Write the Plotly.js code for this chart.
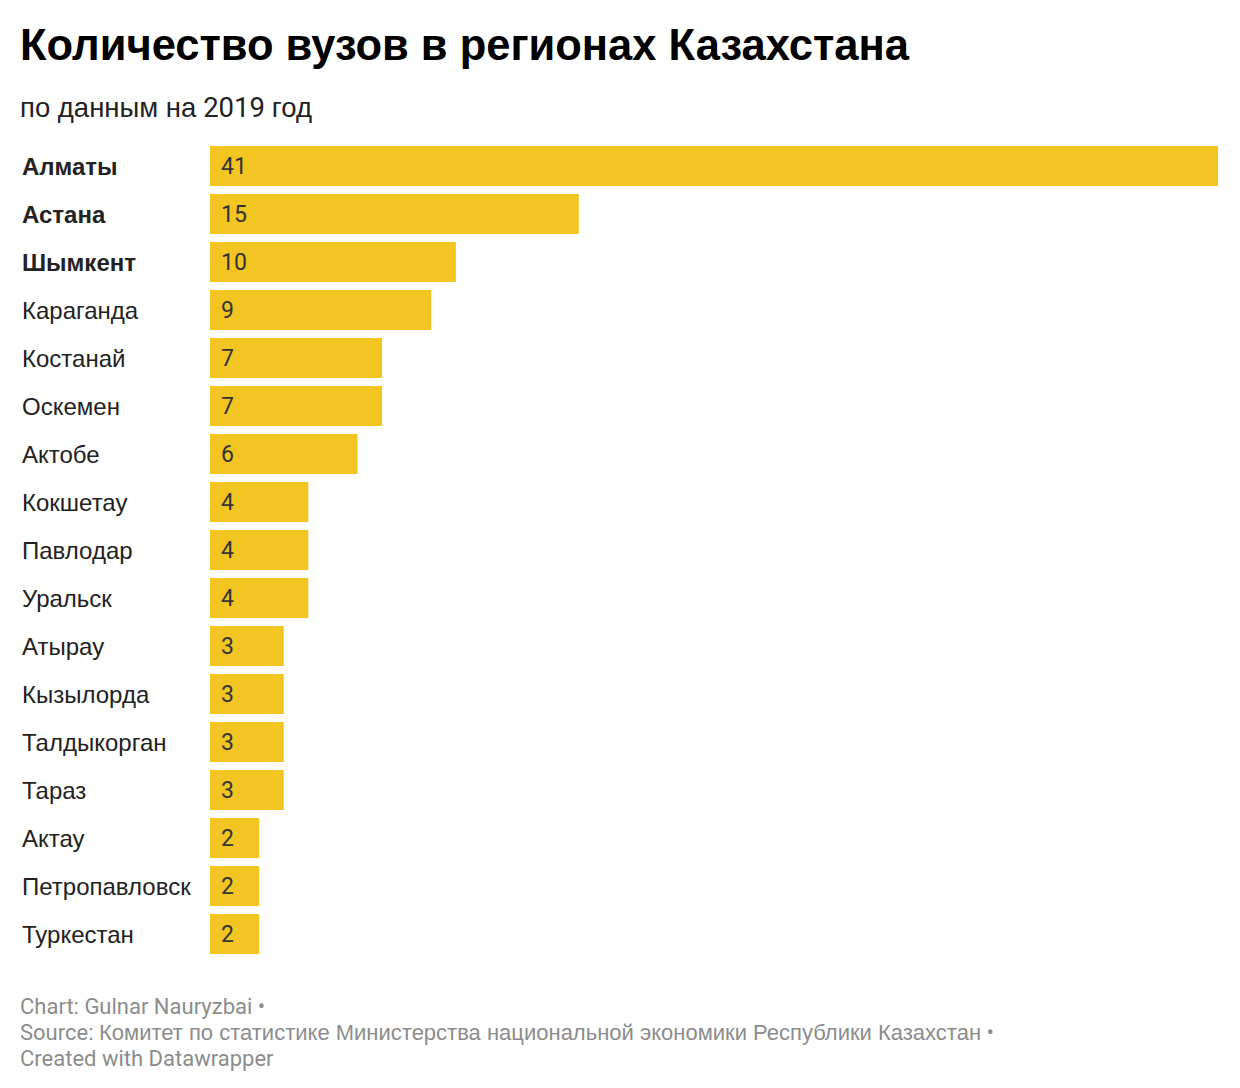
<!DOCTYPE html>
<html>
<head>
<meta charset="utf-8">
<script src="https://cdn.plot.ly/plotly-3.0.1.min.js"></script>
<style>html,body{margin:0;padding:0;background:#fff;}#chart{width:1240px;height:1088px;}</style>
</head>
<body>
<div id="chart"></div>
<script>
const regions = ["Алматы","Астана","Шымкент","Караганда","Костанай","Оскемен","Актобе","Кокшетау","Павлодар","Уральск","Атырау","Кызылорда","Талдыкорган","Тараз","Актау","Петропавловск","Туркестан"];
const counts = [41,15,10,9,7,7,6,4,4,4,3,3,3,3,2,2,2];
const boldRegions = ["Алматы","Астана","Шымкент"];
const titleText = "Количество вузов в регионах Казахстана";
const subtitleText = "по данным на 2019 год";
const footerLines = ["Chart: Gulnar Nauryzbai •","Source: Комитет по статистике Министерства национальной экономики Республики Казахстан •","Created with Datawrapper"];

const FONT = "Roboto, 'Noto Sans', sans-serif";
const CYR = "'Liberation Sans', Arial, sans-serif";
// Cyrillic runs in Liberation Sans, Latin and digits in Roboto
const mix = (s) => s.replace(/[\u0400-\u04FF]+(?:\s+[\u0400-\u04FF]+)*/g,
  (m) => '<span style="font-family:' + CYR.replace(/'/g, '') + '">' + m + '</span>');

const plotTop = 142, plotBottom = 958, plotH = plotBottom - plotTop;
const py = (pix) => (plotBottom - pix) / plotH;

const annotations = [];
regions.forEach((r, i) => {
  annotations.push({
    xref: 'paper', yref: 'y', x: 0, y: r, xanchor: 'left', yanchor: 'middle', xshift: -190,
    text: boldRegions.includes(r) ? '<b>' + r + '</b>' : r,
    showarrow: false, font: {family: CYR, size: 24, color: '#222'}
  });
  annotations.push({
    xref: 'x', yref: 'y', x: 0, y: r, xanchor: 'left', yanchor: 'middle', xshift: 9,
    text: String(counts[i]), showarrow: false, font: {family: FONT, size: 23, color: '#333'}
  });
});
annotations.push({
  xref: 'paper', yref: 'paper', x: 0, y: py(108), xanchor: 'left', yanchor: 'middle', xshift: -192,
  text: mix(subtitleText), showarrow: false, font: {family: FONT, size: 27.5, color: '#222'}
});
footerLines.forEach((t, i) => {
  annotations.push({
    xref: 'paper', yref: 'paper', x: 0, y: py(1006 + 26 * i), xanchor: 'left', yanchor: 'middle', xshift: -192,
    text: mix(t), showarrow: false, font: {family: FONT, size: 22, color: '#8c8c8c'}
  });
});

const data = [{
  type: 'bar', orientation: 'h', y: regions, x: counts,
  marker: {color: '#f2c523', line: {width: 0}},
  hoverinfo: 'skip'
}];

const layout = {
  width: 1240, height: 1088,
  margin: {l: 210, r: 22, t: plotTop, b: 1088 - plotBottom, pad: 0},
  paper_bgcolor: '#fff', plot_bgcolor: '#fff',
  title: {
    text: '<b>' + titleText + '</b>', xref: 'container', yref: 'container',
    x: 20 / 1240, xanchor: 'left', y: 1 - 45 / 1088, yanchor: 'middle',
    font: {family: CYR, size: 43.5, color: '#000'}
  },
  xaxis: {range: [0, 41], visible: false, fixedrange: true},
  yaxis: {autorange: 'reversed', visible: false, fixedrange: true, type: 'category'},
  bargap: 8 / 48,
  showlegend: false,
  annotations: annotations
};

Plotly.newPlot('chart', data, layout, {displayModeBar: false, staticPlot: true});
</script>
</body>
</html>
